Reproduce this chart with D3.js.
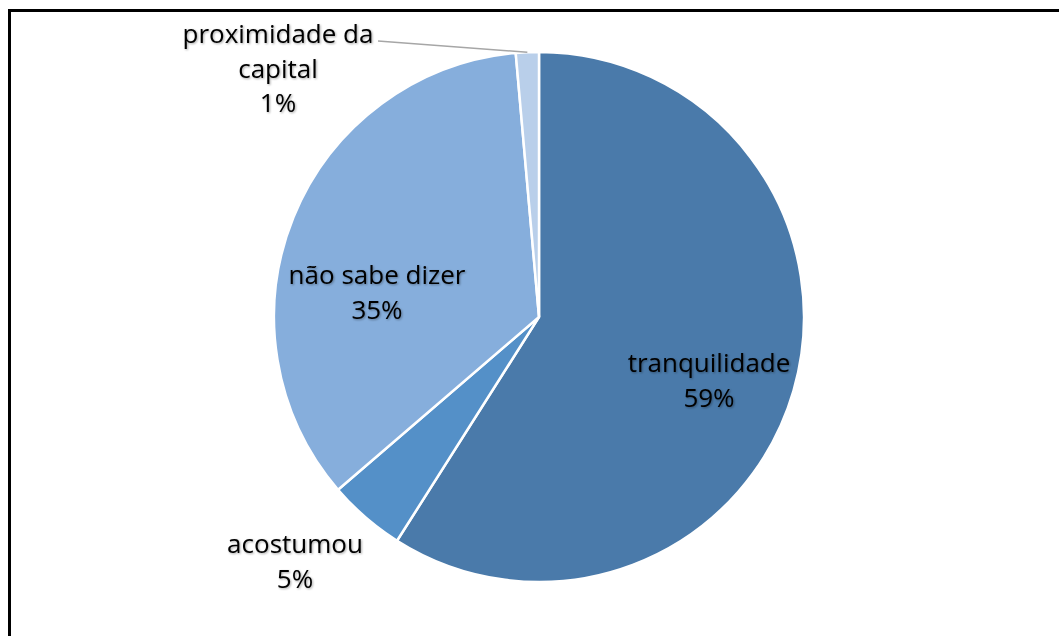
<!DOCTYPE html>
<html><head><meta charset="utf-8">
<script src="https://cdn.jsdelivr.net/npm/d3@7"></script>
<style>body{margin:0;background:#fff}svg{display:block}</style>
</head><body>
<svg id="c" width="1059" height="636"></svg>
<script>
const categories = ["tranquilidade", "acostumou", "não sabe dizer", "proximidade da capital"];
const values = [59.0, 4.7, 34.9, 1.4];
const labels = ["59%", "5%", "35%", "1%"];
const colors = ["#4a7aaa", "#5490c8", "#86aedc", "#b9cfea"];
const labelLines = [["tranquilidade","59%"],["acostumou","5%"],["não sabe dizer","35%"],["proximidade da","capital","1%"]];
const labelPos = [[709,372],[295,553],[377,284],[278,43]];

const svg = d3.select("#c");
svg.append("path").attr("d","M1070,10.5 H9.5 V650").attr("fill","none").attr("stroke","#000").attr("stroke-width",3);

const cx = 539, cy = 317, r = 265;
const pie = d3.pie().sort(null).value(d=>d)(values);
const arc = d3.arc().innerRadius(0).outerRadius(r);
const g = svg.append("g").attr("transform",`translate(${cx},${cy})`);
g.selectAll("path").data(pie).join("path")
  .attr("d",arc).attr("fill",(d,i)=>colors[i]).attr("stroke","#fff").attr("stroke-width",2.5);

const defs = svg.append("defs");
const f = defs.append("filter").attr("id","sh").attr("x","-10%").attr("y","-10%").attr("width","120%").attr("height","130%");
f.append("feDropShadow").attr("dx",1).attr("dy",1).attr("stdDeviation",1).attr("flood-color","#000").attr("flood-opacity",0.35);

const small = pie[3];
const mid = (small.startAngle+small.endAngle)/2;
svg.append("polyline")
  .attr("points",`${378},${41} ${cx + Math.sin(mid)*r},${cy - Math.cos(mid)*r}`)
  .attr("fill","none").attr("stroke","#a6a6a6").attr("stroke-width",1.5);

const lh = 34.5;
labelLines.forEach((lines,i)=>{
  const [x,y] = labelPos[i];
  const t = svg.append("text").attr("font-family","'Open Sans', Lato, sans-serif").attr("font-size",26)
    .attr("text-anchor","middle").attr("fill","#000").attr("filter","url(#sh)");
  lines.forEach((s,k)=>{
    t.append("tspan").attr("x",x).attr("y", y + k*lh).text(s);
  });
});
</script>
</body></html>
